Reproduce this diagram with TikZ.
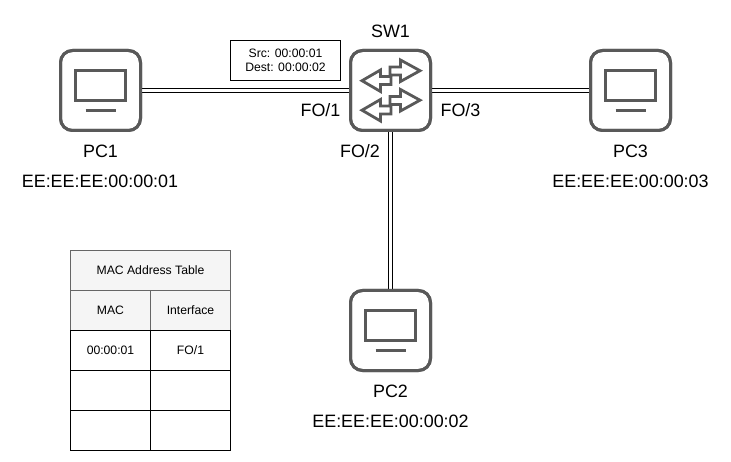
\documentclass[tikz,border=0pt]{standalone}
\usepackage{fontspec}
\setmainfont{Liberation Sans}
\definecolor{dev}{HTML}{595959}
\definecolor{hd}{HTML}{F5F5F5}
\definecolor{hdl}{HTML}{666666}
\tikzset{
  x=1pt,y=-1pt,
  devbox/.style={draw=dev,line width=3pt,rounded corners=12pt,minimum width=80pt,minimum height=80pt,inner sep=0pt,fill=white},
  link/.style={draw=black,line width=1pt,double=white,double distance=2.8pt},
  lbl/.style={inner sep=0pt,font=\fontsize{17.9}{20}\selectfont},
  small/.style={inner sep=0pt,font=\fontsize{12.2}{14.2}\selectfont,align=center},
  detail/.style={draw=dev,line width=3pt},
  arrowz/.style={draw=dev,line width=2.8pt,miter limit=10,line join=miter},
  hdcell/.style={draw=hdl,fill=hd,line width=.8pt,minimum height=40pt,inner sep=0pt,font=\fontsize{12.2}{14}\selectfont},
  cell/.style={draw=black,fill=white,line width=.8pt,minimum height=40pt,inner sep=0pt,font=\fontsize{12.2}{14}\selectfont},
}
\newcommand{\zarrow}[1]{%
  \draw[arrowz,shift={(0,#1)}] (420,70.7) -- (400.5,60) -- (400.5,67) -- (390,67) -- (390,76.5) -- (380.5,76.5) -- (380.5,70) -- (362,80.7) -- (380.5,91.5) -- (380.5,84.5) -- (391,84.5) -- (391,75) -- (400.5,75) -- (400.5,81.5) -- cycle;}
\begin{document}
\begin{tikzpicture}
\useasboundingbox (0,0) rectangle (731,462);
\fill[white] (0,0) rectangle (731,462);
\coordinate (c1) at (100.5,90.5);
\coordinate (c2) at (390.5,330.5);
\coordinate (c3) at (630.5,90.5);
\coordinate (cs) at (390.5,90.5);
\node[devbox] (pc1) at (c1) {};
\node[devbox] (pc2) at (c2) {};
\node[devbox] (pc3) at (c3) {};
\node[devbox] (sw) at (cs) {};
\draw[link] (pc1.east) -- (sw.west);
\draw[link] (sw.east) -- (pc3.west);
\draw[link] (sw.south) -- (pc2.north);
\node[devbox,fill=none] at (c1) {};
\node[devbox,fill=none] at (c2) {};
\node[devbox,fill=none] at (c3) {};
\node[devbox,fill=none] at (cs) {};
\foreach \c in {c1,c2,c3}{
  \draw[detail,shift={(\c)}] (-25,-20) rectangle (25,10);
  \draw[detail,shift={(\c)}] (-15,20) -- (15,20);
}
\zarrow{0}
\zarrow{29.5}
\node[lbl] (t1) at (390.5,31) {SW1};
\node[lbl] (t2) at (100.5,151) {PC1};
\node[lbl] (t3) at (100,181) {EE:EE:EE:00:00:01};
\node[lbl] (t4) at (630.5,151) {PC3};
\node[lbl] (t5) at (630.5,181) {EE:EE:EE:00:00:03};
\node[lbl] (t6) at (390.5,391) {PC2};
\node[lbl] (t7) at (390.5,421) {EE:EE:EE:00:00:02};
\node[lbl] (t8) at (320.5,110.5) {FO/1};
\node[lbl] (t9) at (360,151) {FO/2};
\node[lbl] (t10) at (460.5,110.5) {FO/3};
\node[draw=black,line width=.8pt,minimum width=110pt,minimum height=40pt,inner sep=0pt,small] (msg) at (285.5,60.5) {Src: 00:00:01\\Dest: 00:00:02};
\node[hdcell,minimum width=160pt] (th) at (150.5,270.5) {MAC Address Table};
\node[hdcell,minimum width=80pt] (h1) at (110.5,310.5) {MAC};
\node[hdcell,minimum width=80pt] (h2) at (190.5,310.5) {Interface};
\node[cell,minimum width=80pt] (a1) at (110.5,350.5) {00:00:01};
\node[cell,minimum width=80pt] (a2) at (190.5,350.5) {FO/1};
\node[cell,minimum width=80pt] (b1) at (110.5,390.5) {};
\node[cell,minimum width=80pt] (b2) at (190.5,390.5) {};
\node[cell,minimum width=80pt] (d1) at (110.5,430.5) {};
\node[cell,minimum width=80pt] (d2) at (190.5,430.5) {};
\end{tikzpicture}
\end{document}
